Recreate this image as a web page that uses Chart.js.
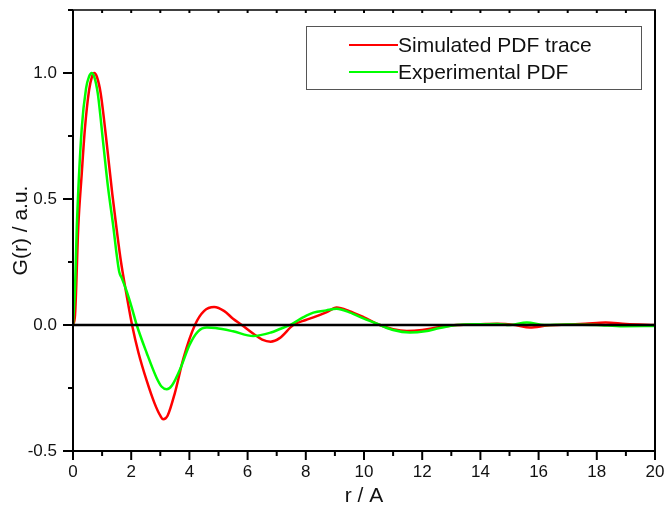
<!DOCTYPE html>
<html>
<head>
<meta charset="utf-8">
<script src="https://cdn.jsdelivr.net/npm/chart.js@4.4.1/dist/chart.umd.min.js"></script>
<style>
  html, body { margin: 0; padding: 0; background: #fff; }
  #wrap { width: 665px; height: 507px; }
</style>
</head>
<body>
<div id="wrap"><canvas id="myChart" width="665" height="507"></canvas></div>
<script>
'use strict';

// simulated PDF trace (red)
let simR = [0, 0.07, 0.18, 0.3, 0.41, 0.55, 0.65, 0.73, 0.82, 0.95,
  1.16, 1.35, 1.5, 1.65, 1.84, 2.03, 2.25, 2.53, 2.8,
  3.0, 3.1, 3.25, 3.5, 3.8, 4.19, 4.5, 4.85, 5.2, 5.5,
  5.8, 6.2, 6.5, 6.79, 7.1, 7.57, 8.0, 8.26, 8.7, 9.06,
  9.5, 10.0, 10.55, 11.0, 11.47, 12.0, 12.5, 13.2, 14.0, 14.56,
  15.2, 15.7, 16.3, 17.0, 17.6, 18.3, 19.0, 20];
let simG = [0, 0.04, 0.386, 0.6, 0.78, 0.93, 0.985, 1.0, 0.985, 0.92,
  0.72, 0.52, 0.38, 0.25, 0.12, 0.0, -0.11, -0.22, -0.31,
  -0.36, -0.374, -0.36, -0.27, -0.13, 0.0, 0.055, 0.071, 0.055, 0.025,
  0.0, -0.035, -0.058, -0.066, -0.052, 0.0, 0.02, 0.03, 0.05, 0.069,
  0.055, 0.03, 0.0, -0.017, -0.024, -0.02, -0.01, 0.0, 0.003, 0.005,
  0.0, -0.01, -0.002, 0.002, 0.005, 0.01, 0.004, 0.0];

// experimental PDF (green)
let expR = [0, 0.07, 0.13, 0.3, 0.45, 0.55, 0.64, 0.73, 0.85, 1.04,
  1.2, 1.39, 1.5, 1.59, 1.67, 1.84, 2.02, 2.19, 2.53, 2.87,
  3.05, 3.22, 3.4, 3.7, 4.0, 4.3, 4.6, 4.9, 5.5, 6.19,
  6.8, 7.11, 7.46, 7.9, 8.26, 8.7, 9.06, 9.5, 10.0, 10.55,
  11.0, 11.58, 12.1, 12.6, 13.2, 14.0, 14.6, 15.0, 15.6, 16.2,
  17.0, 18.0, 18.9, 20];
let expG = [0, 0.15, 0.386, 0.78, 0.94, 0.985, 1.0, 0.985, 0.92, 0.72,
  0.55, 0.386, 0.28, 0.21, 0.188, 0.135, 0.069, 0.0, -0.11, -0.209,
  -0.245, -0.255, -0.24, -0.17, -0.08, -0.025, -0.01, -0.012, -0.025, -0.044,
  -0.03, -0.016, 0.0, 0.03, 0.049, 0.058, 0.064, 0.05, 0.025, 0.0,
  -0.02, -0.03, -0.025, -0.012, 0.0, 0.003, 0.004, 0.0, 0.01, 0.0,
  0.002, 0.0, -0.005, -0.004];

let seriesLabels = ['Simulated PDF trace', 'Experimental PDF'];
let seriesColors = ['#ff0000', '#00ff00'];

let xTickLabels = [0, 2, 4, 6, 8, 10, 12, 14, 16, 18, 20];
let yTickLabels = [-0.5, 0.0, 0.5, 1.0];

const FONT = '"Liberation Sans", Arial, sans-serif';

function toPoints(xs, ys) {
  let pts = [];
  for (let i = 0; i < xs.length; i++) {
    pts.push({ x: xs[i], y: ys[i] });
  }
  return pts;
}

function isLabelled(list, v) {
  return list.some(function (t) { return Math.abs(t - v) < 1e-6; });
}

function seg(ctx, x1, y1, x2, y2) {
  ctx.beginPath();
  ctx.moveTo(x1, y1);
  ctx.lineTo(x2, y2);
  ctx.stroke();
}

// axis frame, zero line and ticks, Origin style
const framePlugin = {
  id: 'frame',
  afterDatasetsDraw(chart) {
    const ctx = chart.ctx;
    const a = chart.chartArea;
    const xs = chart.scales.x;
    const ys = chart.scales.y;
    ctx.save();
    ctx.strokeStyle = '#000';

    ctx.lineWidth = 2.5;
    let y0 = ys.getPixelForValue(0);
    seg(ctx, a.left, y0, a.right, y0);

    ctx.lineWidth = 2;
    xs.ticks.forEach(function (t) {
      let px = xs.getPixelForValue(t.value);
      let major = isLabelled(xTickLabels, t.value);
      seg(ctx, px, a.bottom, px, a.bottom + (major ? 9 : 5));
      seg(ctx, px, a.top, px, a.top + 3);
    });
    ys.ticks.forEach(function (t) {
      let py = ys.getPixelForValue(t.value);
      let major = isLabelled(yTickLabels, t.value);
      seg(ctx, a.left - (major ? 10 : 5), py, a.left, py);
    });

    seg(ctx, a.left, a.top, a.left, a.bottom);
    seg(ctx, a.left - 1, a.bottom, a.right + 1, a.bottom);
    seg(ctx, a.right, a.top, a.right, a.bottom);
    ctx.lineWidth = 1.5;
    seg(ctx, a.left - 1, a.top, a.right + 1, a.top);
    ctx.restore();
  }
};

// boxed legend in the top right corner
const boxLegend = {
  id: 'boxLegend',
  afterDraw(chart) {
    const ctx = chart.ctx;
    ctx.save();
    ctx.strokeStyle = '#555';
    ctx.lineWidth = 1;
    ctx.strokeRect(306.5, 26.5, 335, 63);
    ctx.font = '21px ' + FONT;
    ctx.textBaseline = 'middle';
    ctx.textAlign = 'left';
    let rows = [45, 72];
    for (let i = 0; i < seriesLabels.length; i++) {
      ctx.strokeStyle = seriesColors[i];
      ctx.lineWidth = 2;
      seg(ctx, 349, rows[i], 398, rows[i]);
      ctx.fillStyle = '#111';
      ctx.fillText(seriesLabels[i], 398, rows[i] + 1);
    }
    ctx.restore();
  }
};

let ctx = document.getElementById('myChart').getContext('2d');

new Chart(ctx, {
  type: 'line',
  data: {
    datasets: [{
      label: seriesLabels[0],
      data: toPoints(simR, simG),
      borderColor: seriesColors[0],
      borderWidth: 2.5,
      pointRadius: 0,
      cubicInterpolationMode: 'monotone',
      order: 1
    }, {
      label: seriesLabels[1],
      data: toPoints(expR, expG),
      borderColor: seriesColors[1],
      borderWidth: 2.5,
      pointRadius: 0,
      cubicInterpolationMode: 'monotone',
      order: 0
    }]
  },
  options: {
    responsive: false,
    animation: false,
    devicePixelRatio: 1,
    layout: { padding: { top: 10, right: 10, left: 0, bottom: 0 } },
    plugins: { legend: { display: false }, tooltip: { enabled: false } },
    scales: {
      x: {
        type: 'linear',
        min: 0,
        max: 20,
        grid: { display: false, drawTicks: false },
        border: { display: false },
        ticks: {
          stepSize: 1,
          autoSkip: false,
          maxRotation: 0,
          padding: 11,
          color: '#111',
          font: { family: FONT, size: 17 },
          callback: function (v) { return isLabelled(xTickLabels, v) ? String(v) : ''; }
        },
        title: {
          display: true,
          text: 'r / A',
          color: '#111',
          font: { family: FONT, size: 21 },
          padding: { top: 0, bottom: -2 }
        },
        afterFit: function (s) {
          s.height = 56;
          s.paddingLeft = 0;
          s.paddingRight = 0;
        }
      },
      y: {
        min: -0.5,
        max: 1.25,
        grid: { display: false, drawTicks: false },
        border: { display: false },
        ticks: {
          stepSize: 0.25,
          autoSkip: false,
          padding: 16,
          color: '#111',
          font: { family: FONT, size: 17 },
          callback: function (v) { return isLabelled(yTickLabels, v) ? v.toFixed(1) : ''; }
        },
        title: {
          display: true,
          text: 'G(r) / a.u.',
          color: '#111',
          font: { family: FONT, size: 21 },
          padding: { top: 9, bottom: 0 }
        },
        afterFit: function (s) {
          s.width = 73;
          s.paddingTop = 0;
          s.paddingBottom = 0;
        }
      }
    }
  },
  plugins: [framePlugin, boxLegend]
});
</script>
</body>
</html>
